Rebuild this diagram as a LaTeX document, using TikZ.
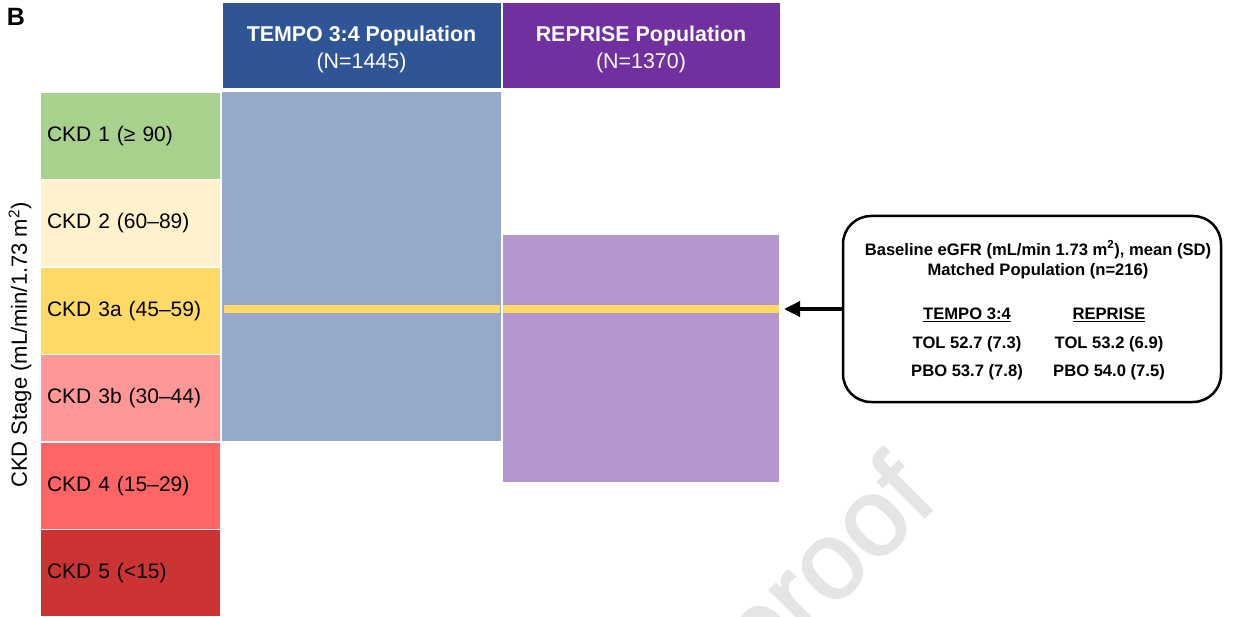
\documentclass[tikz,border=0pt]{standalone}
\usepackage{fontspec}
\setmainfont{Liberation Sans}
\newfontfamily\markfont[FakeBold=1.8]{Liberation Sans}
\usetikzlibrary{positioning, arrows.meta}
\definecolor{tempoblue}{HTML}{2F5597}
\definecolor{tempolight}{HTML}{97A9C9}
\definecolor{reprisepurple}{HTML}{7030A0}
\definecolor{repriselight}{HTML}{B597CF}
\definecolor{ckdone}{HTML}{A9D18E}
\definecolor{ckdtwo}{HTML}{FFF2CC}
\definecolor{ckdthreea}{HTML}{FFD966}
\definecolor{ckdthreeb}{HTML}{FF9797}
\definecolor{ckdfour}{HTML}{FF6565}
\definecolor{ckdfive}{HTML}{CC3333}
\newcommand\stagefont{\fontsize{21}{25}\selectfont}
\newcommand\headfont{\fontsize{21.4}{27}\selectfont}
\newcommand\infofont{\fontsize{16.6}{20.5}\selectfont\bfseries}
\tikzstyle{arrow} = [line width=3.5pt,-{Triangle[length=16pt,width=15pt]}]
\tikzstyle{stage} = [draw=white, line width=1.5pt, outer sep=0pt, minimum width=181pt,
	minimum height=87.5pt, text width=167pt, inner xsep=7pt, align=left, font=\stagefont]
\tikzstyle{header} = [draw=white, line width=1pt, outer sep=0pt, minimum width=279pt,
	minimum height=86pt, text=white, align=center, font=\headfont]
\tikzstyle{bar} = [outer sep=0pt, inner sep=0pt, anchor=north west]
\tikzstyle{band} = [fill=ckdthreea, outer sep=0pt, inner sep=0pt, minimum height=8pt]
\tikzstyle{infotext} = [font=\infofont, align=center, inner sep=1pt]

\begin{document}
\begin{tikzpicture}[x=1pt, y=-1pt]
	\useasboundingbox (0,0) rectangle (1234,617);
	\clip (0,0) rectangle (1234,617);
	% watermark
	\node[rotate=45, anchor=base east, text=black!10, font=\markfont\fontsize{110}{120}\selectfont] (mark) at (942,500) {proof};
	% headers
	\node[header, fill=tempoblue, anchor=north west] (tempo head) at (222,3) {\rule{0pt}{23pt}\textbf{TEMPO 3:4 Population}\\(N=1445)};
	\node[header, fill=reprisepurple, minimum width=278pt, right=1pt of tempo head] (reprise head) {\rule{0pt}{23pt}\textbf{REPRISE Population}\\(N=1370)};
	% CKD stages
	\node[stage, fill=ckdone, anchor=north west] (ckd1) at (40,92) {CKD 1 (≥ 90)};
	\node[stage, fill=ckdtwo, below=0pt of ckd1] (ckd2) {CKD 2 (60–89)};
	\node[stage, fill=ckdthreea, below=0pt of ckd2] (ckd3a) {CKD 3a (45–59)};
	\node[stage, fill=ckdthreeb, below=0pt of ckd3a] (ckd3b) {CKD 3b (30–44)};
	\node[stage, fill=ckdfour, below=0pt of ckd3b] (ckd4) {CKD 4 (15–29)};
	\node[stage, fill=ckdfive, below=0pt of ckd4] (ckd5) {CKD 5 (<15)};
	\node[rotate=90, font=\fontsize{22}{26}\selectfont] (stage label) at (20,345) {CKD Stage (mL/min/1.73 m\textsuperscript{2})};
	\node[font=\bfseries\fontsize{25}{30}\selectfont] (panel) at (16,17) {B};
	% population ranges
	\node[bar, fill=tempolight, minimum width=279pt, minimum height=349pt] (tempo bar) at (222,92) {};
	\node[bar, fill=repriselight, minimum width=276pt, minimum height=247pt] (reprise bar) at (503,235) {};
	\node[band, minimum width=276pt] (tempo band) at (362,309) {};
	\node[band, minimum width=276pt] (reprise band) at (641,309) {};
	% matched population
	\node[draw, line width=2.5pt, rounded corners=28pt, minimum width=378pt, minimum height=186pt] (info) at (1032,309) {};
	\node[infotext] (info title) at (1038,260) {Baseline eGFR (mL/min 1.73 m\textsuperscript{2}), mean (SD)\\Matched Population (n=216)};
	\node[infotext] (tempo col) at (967,315) {\underline{TEMPO 3:4}};
	\node[infotext] (tempo tol) at (967,344) {TOL 52.7 (7.3)};
	\node[infotext] (tempo pbo) at (967,372) {PBO 53.7 (7.8)};
	\node[infotext] (reprise col) at (1109,315) {\underline{REPRISE}};
	\node[infotext] (reprise tol) at (1109,344) {TOL 53.2 (6.9)};
	\node[infotext] (reprise pbo) at (1109,372) {PBO 54.0 (7.5)};
	\draw[arrow] (info.west) -- ([xshift=5pt]reprise band.east);
\end{tikzpicture}
\end{document}
